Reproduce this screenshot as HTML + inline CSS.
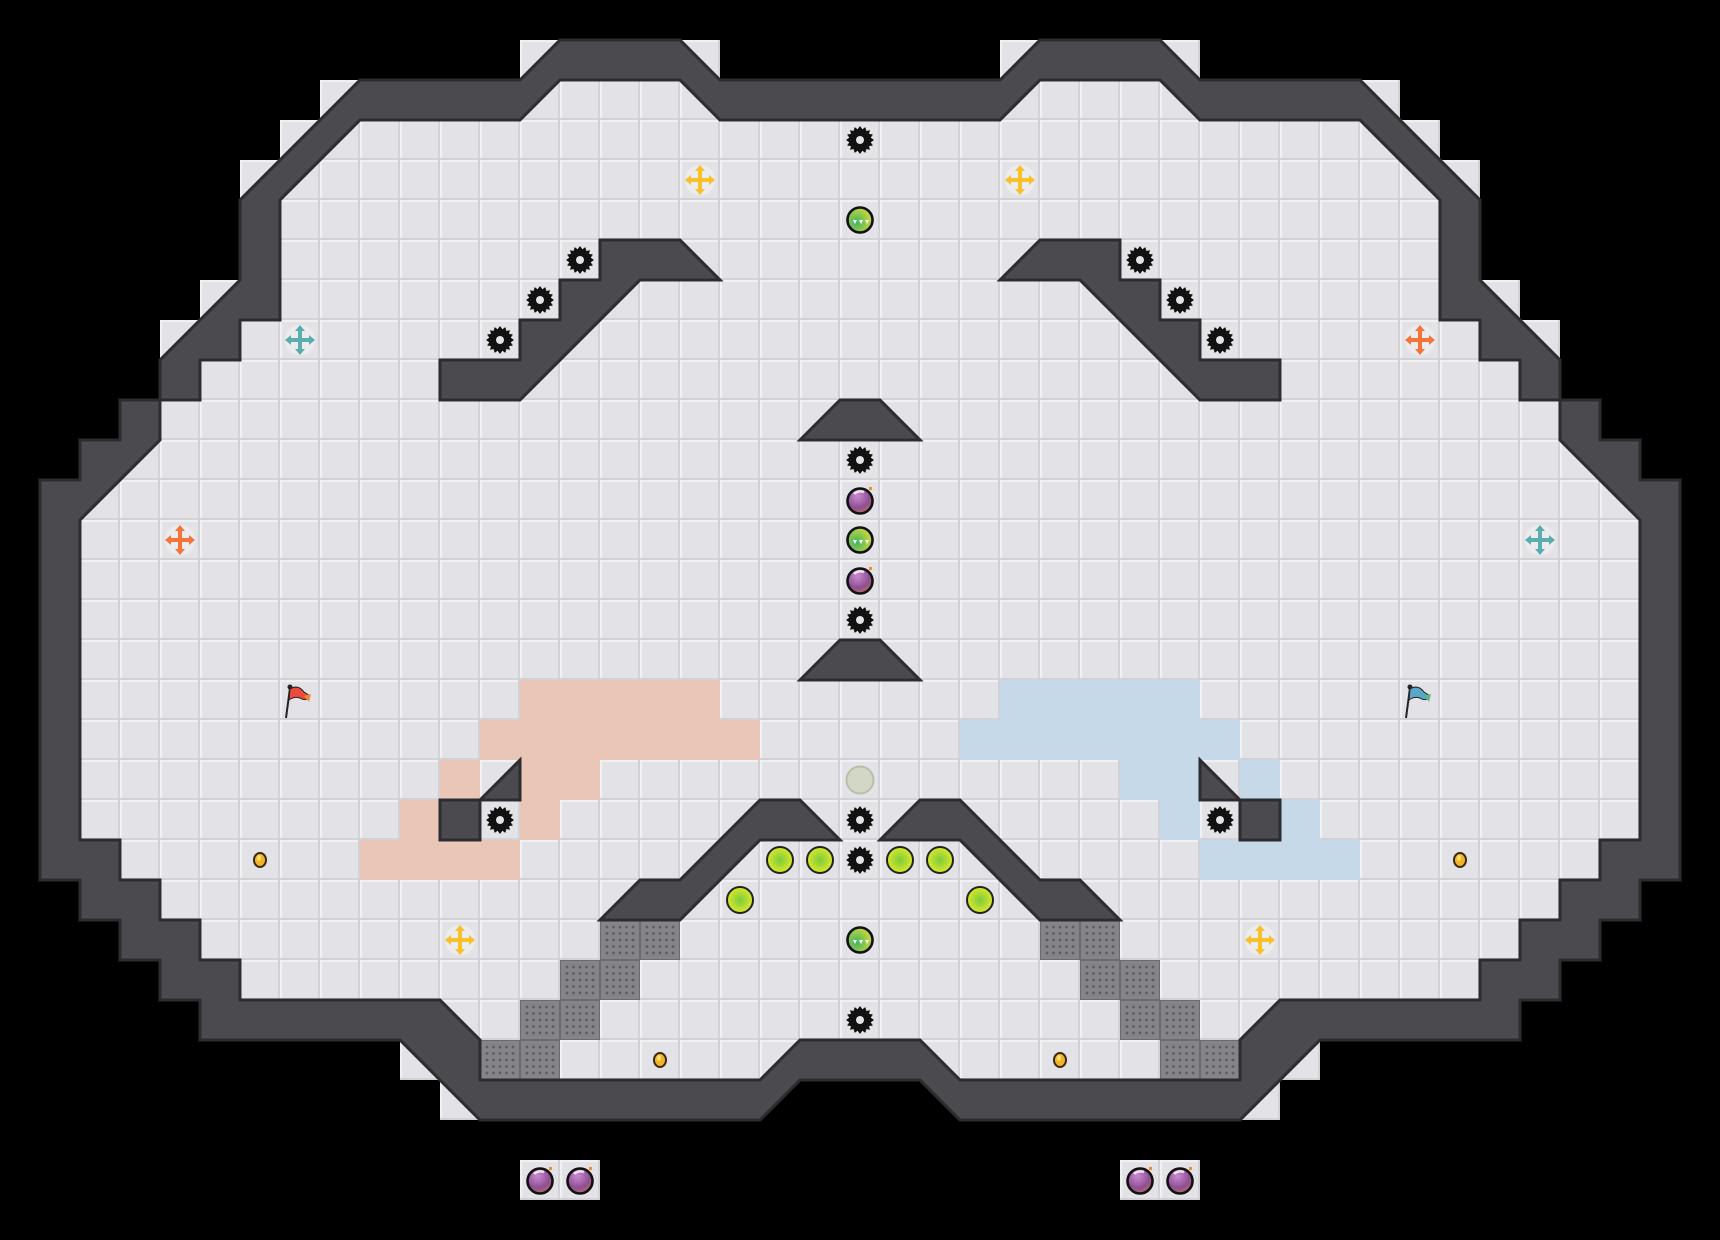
<!DOCTYPE html>
<html><head><meta charset="utf-8"><style>html,body{margin:0;padding:0;background:#000;}svg{display:block}</style></head>
<body>
<svg width="1720" height="1240" viewBox="0 0 1720 1240" xmlns="http://www.w3.org/2000/svg">
<defs>
<pattern id="tile" width="40" height="40" patternUnits="userSpaceOnUse">
<rect width="40" height="40" fill="#e3e3e7"/>
<rect x="0" y="0" width="40" height="2" fill="#f1f1f4"/>
<rect x="0" y="0" width="2" height="40" fill="#f1f1f4"/>
<rect x="0" y="38" width="40" height="2" fill="#d2d2d6"/>
<rect x="38" y="0" width="2" height="40" fill="#d2d2d6"/>
</pattern>
<pattern id="metal" width="40" height="40" patternUnits="userSpaceOnUse">
<rect width="40" height="40" fill="#858589"/>
<rect width="40" height="40" fill="none" stroke="#6c6c70" stroke-width="2"/>
<g fill="#5e5e62">
<circle cx="7" cy="7" r="1.4"/><circle cx="13.5" cy="7" r="1.4"/><circle cx="20" cy="7" r="1.4"/><circle cx="26.5" cy="7" r="1.4"/><circle cx="33" cy="7" r="1.4"/>
<circle cx="7" cy="13.5" r="1.4"/><circle cx="13.5" cy="13.5" r="1.4"/><circle cx="20" cy="13.5" r="1.4"/><circle cx="26.5" cy="13.5" r="1.4"/><circle cx="33" cy="13.5" r="1.4"/>
<circle cx="7" cy="20" r="1.4"/><circle cx="13.5" cy="20" r="1.4"/><circle cx="20" cy="20" r="1.4"/><circle cx="26.5" cy="20" r="1.4"/><circle cx="33" cy="20" r="1.4"/>
<circle cx="7" cy="26.5" r="1.4"/><circle cx="13.5" cy="26.5" r="1.4"/><circle cx="20" cy="26.5" r="1.4"/><circle cx="26.5" cy="26.5" r="1.4"/><circle cx="33" cy="26.5" r="1.4"/>
<circle cx="7" cy="33" r="1.4"/><circle cx="13.5" cy="33" r="1.4"/><circle cx="20" cy="33" r="1.4"/><circle cx="26.5" cy="33" r="1.4"/><circle cx="33" cy="33" r="1.4"/>
</g>
</pattern>
<radialGradient id="gbomb" cx="0.4" cy="0.3" r="0.8"><stop offset="0" stop-color="#c98ad0"/><stop offset="0.6" stop-color="#8e4f93"/><stop offset="1" stop-color="#c4734a"/></radialGradient>
<radialGradient id="ggreen" cx="0.35" cy="0.6" r="0.8"><stop offset="0" stop-color="#3fb36a"/><stop offset="0.6" stop-color="#a8d040"/><stop offset="1" stop-color="#e9e04a"/></radialGradient>
<radialGradient id="gyel" cx="0.5" cy="0.5" r="0.55"><stop offset="0" stop-color="#7ccb3a"/><stop offset="1" stop-color="#e4ec2a"/></radialGradient>
<symbol id="gear" viewBox="-20 -20 40 40" overflow="visible">
<polygon fill="#111" points="0,-14 2.4,-10.7 5.4,-12.9 6.3,-9 9.9,-9.9 9,-6.3 12.9,-5.4 10.7,-2.4 14,0 10.7,2.4 12.9,5.4 9,6.3 9.9,9.9 6.3,9 5.4,12.9 2.4,10.7 0,14 -2.4,10.7 -5.4,12.9 -6.3,9 -9.9,9.9 -9,6.3 -12.9,5.4 -10.7,2.4 -14,0 -10.7,-2.4 -12.9,-5.4 -9,-6.3 -9.9,-9.9 -6.3,-9 -5.4,-12.9 -2.4,-10.7"/>
<circle r="4" fill="#e3e3e7"/>
</symbol>
<symbol id="bomb" viewBox="-20 -20 40 40" overflow="visible">
<circle cx="0" cy="1" r="12.5" fill="url(#gbomb)" stroke="#111" stroke-width="2.6"/>
<path d="M-6,-6 Q-2,-10 4,-8" stroke="#fff" stroke-width="2.5" fill="none" opacity="0.8"/>
<rect x="9" y="-13" width="3" height="3" fill="#f08a2a"/>
</symbol>
<symbol id="green" viewBox="-20 -20 40 40" overflow="visible">
<circle r="12.5" fill="url(#ggreen)" stroke="#111" stroke-width="2.6"/>
<path d="M-7,0 l2,4 l2,-4 z M-1,0 l2,4 l2,-4 z M5,0 l2,4 l2,-4 z" fill="#fff"/>
</symbol>
<symbol id="ylw" viewBox="-20 -20 40 40" overflow="visible">
<circle r="13" fill="url(#gyel)" stroke="#222" stroke-width="2"/>
</symbol>
<symbol id="coin" viewBox="-20 -20 40 40" overflow="visible">
<ellipse rx="6" ry="7" fill="#f4b324" stroke="#3a2a10" stroke-width="2"/>
<ellipse cx="-1" cy="-2" rx="2" ry="3" fill="#ffe07a"/>
</symbol>
<symbol id="cross" viewBox="-20 -20 40 40" overflow="visible">
<circle r="15" fill="#ececef"/>
<path d="M0,-15 L5,-9 L2,-9 L2,-2 L9,-2 L9,-5 L15,0 L9,5 L9,2 L2,2 L2,9 L5,9 L0,15 L-5,9 L-2,9 L-2,2 L-9,2 L-9,5 L-15,0 L-9,-5 L-9,-2 L-2,-2 L-2,-9 L-5,-9 Z"/>
</symbol>
</defs>

<!-- floor tiles -->
<polygon fill="url(#tile)" points="860,80 720,80 720,40 520,40 520,80 320,80 320,120 280,120 280,160 240,160 240,280 200,280 200,320 160,320 160,400 120,400 120,440 80,440 80,480 40,480 40,880 80,880 80,920 120,920 120,960 160,960 160,1000 200,1000 200,1040 400,1040 400,1080 440,1080 440,1120 760,1120 760,1080 960,1080 960,1120 1280,1120 1280,1080 1320,1080 1320,1040 1520,1040 1520,1000 1560,1000 1560,960 1600,960 1600,920 1640,920 1640,880 1680,880 1680,480 1640,480 1640,440 1600,440 1600,400 1560,400 1560,320 1520,320 1520,280 1480,280 1480,160 1440,160 1440,120 1400,120 1400,80 1200,80 1200,40 1000,40 1000,80"/>
<!-- extra tiles -->
<rect x="520" y="1160" width="80" height="40" fill="url(#tile)"/>
<rect x="1120" y="1160" width="80" height="40" fill="url(#tile)"/>

<!-- peach -->
<g fill="#eac6b6">
<rect x="520" y="680" width="200" height="40"/>
<rect x="480" y="720" width="280" height="40"/>
<rect x="440" y="760" width="40" height="40"/><rect x="520" y="760" width="80" height="40"/>
<rect x="400" y="800" width="40" height="40"/><rect x="520" y="800" width="40" height="40"/>
<rect x="360" y="840" width="160" height="40"/>
</g>
<g fill="#c6d9e8">
<rect x="1000" y="680" width="200" height="40"/>
<rect x="960" y="720" width="280" height="40"/>
<rect x="1120" y="760" width="80" height="40"/><rect x="1240" y="760" width="40" height="40"/>
<rect x="1160" y="800" width="40" height="40"/><rect x="1280" y="800" width="40" height="40"/>
<rect x="1200" y="840" width="160" height="40"/>
</g>
<g fill="none" stroke="#ffffff" stroke-opacity="0.25" stroke-width="1">
</g>
<!-- metal -->
<g fill="url(#metal)">
<rect x="600" y="920" width="80" height="40"/><rect x="560" y="960" width="80" height="40"/><rect x="520" y="1000" width="80" height="40"/><rect x="480" y="1040" width="80" height="40"/>
<rect x="1040" y="920" width="80" height="40"/><rect x="1080" y="960" width="80" height="40"/><rect x="1120" y="1000" width="80" height="40"/><rect x="1160" y="1040" width="80" height="40"/>
</g>

<!-- walls -->
<g fill="#4a4a4f" stroke="#2c2c31" stroke-width="3" stroke-linejoin="miter">
<path fill-rule="evenodd" d="M860,80 L720,80 L680,40 L560,40 L520,80 L360,80 L240,200 L240,280 L160,360 L160,400 L120,400 L120,440 L80,440 L80,480 L40,480 L40,880 L80,880 L80,920 L120,920 L120,960 L160,960 L160,1000 L200,1000 L200,1040 L400,1040 L480,1120 L760,1120 L800,1080 L920,1080 L960,1120 L1240,1120 L1320,1040 L1520,1040 L1520,1000 L1560,1000 L1560,960 L1600,960 L1600,920 L1640,920 L1640,880 L1680,880 L1680,480 L1640,480 L1640,440 L1600,440 L1600,400 L1560,400 L1560,360 L1480,280 L1480,200 L1360,80 L1200,80 L1160,40 L1040,40 L1000,80 Z
M860,120 L720,120 L680,80 L560,80 L520,120 L360,120 L280,200 L280,320 L240,320 L240,360 L200,360 L200,400 L160,400 L160,440 L80,520 L80,840 L120,840 L120,880 L160,880 L160,920 L200,920 L200,960 L240,960 L240,1000 L440,1000 L480,1040 L480,1080 L760,1080 L800,1040 L920,1040 L960,1080 L1240,1080 L1240,1040 L1280,1000 L1480,1000 L1480,960 L1520,960 L1520,920 L1560,920 L1560,880 L1600,880 L1600,840 L1640,840 L1640,520 L1560,440 L1560,400 L1520,400 L1520,360 L1480,360 L1480,320 L1440,320 L1440,200 L1360,120 L1200,120 L1160,80 L1040,80 L1000,120 Z"/>
<polygon points="440,360 520,360 520,320 560,320 560,280 600,280 600,240 680,240 720,280 640,280 520,400 440,400"/>
<polygon points="1280,360 1200,360 1200,320 1160,320 1160,280 1120,280 1120,240 1040,240 1000,280 1080,280 1200,400 1280,400"/>
<polygon points="800,440 840,400 880,400 920,440"/>
<polygon points="800,680 840,640 880,640 920,680"/>
<polygon points="600,920 640,880 680,880 760,800 800,800 840,840 760,840 680,920"/>
<polygon points="1120,920 1080,880 1040,880 960,800 920,800 880,840 960,840 1040,920"/>
<polygon points="480,800 520,760 520,800"/>
<rect x="440" y="800" width="40" height="40"/>
<polygon points="1240,800 1200,760 1200,800"/>
<rect x="1240" y="800" width="40" height="40"/>
</g>

<!-- gears -->
<g>
<use href="#gear" x="840" y="120" width="40" height="40"/>
<use href="#gear" x="560" y="240" width="40" height="40"/>
<use href="#gear" x="520" y="280" width="40" height="40"/>
<use href="#gear" x="480" y="320" width="40" height="40"/>
<use href="#gear" x="1120" y="240" width="40" height="40"/>
<use href="#gear" x="1160" y="280" width="40" height="40"/>
<use href="#gear" x="1200" y="320" width="40" height="40"/>
<use href="#gear" x="840" y="440" width="40" height="40"/>
<use href="#gear" x="840" y="600" width="40" height="40"/>
<use href="#gear" x="480" y="800" width="40" height="40"/>
<use href="#gear" x="1200" y="800" width="40" height="40"/>
<use href="#gear" x="840" y="800" width="40" height="40"/>
<use href="#gear" x="840" y="840" width="40" height="40"/>
<use href="#gear" x="840" y="1000" width="40" height="40"/>
</g>
<!-- crosses -->
<use href="#cross" x="680" y="160" width="40" height="40" fill="#f6c12a"/>
<use href="#cross" x="1000" y="160" width="40" height="40" fill="#f6c12a"/>
<use href="#cross" x="440" y="920" width="40" height="40" fill="#f6c12a"/>
<use href="#cross" x="1240" y="920" width="40" height="40" fill="#f6c12a"/>
<use href="#cross" x="280" y="320" width="40" height="40" fill="#5aaeae"/>
<use href="#cross" x="1520" y="520" width="40" height="40" fill="#5aaeae"/>
<use href="#cross" x="160" y="520" width="40" height="40" fill="#f4743a"/>
<use href="#cross" x="1400" y="320" width="40" height="40" fill="#f4743a"/>
<!-- balls -->
<use href="#green" x="840" y="200" width="40" height="40"/>
<use href="#green" x="840" y="520" width="40" height="40"/>
<use href="#green" x="840" y="920" width="40" height="40"/>
<use href="#bomb" x="840" y="480" width="40" height="40"/>
<use href="#bomb" x="840" y="560" width="40" height="40"/>
<use href="#bomb" x="520" y="1160" width="40" height="40"/>
<use href="#bomb" x="560" y="1160" width="40" height="40"/>
<use href="#bomb" x="1120" y="1160" width="40" height="40"/>
<use href="#bomb" x="1160" y="1160" width="40" height="40"/>
<circle cx="860" cy="780" r="13.5" fill="#d3d8c6" stroke="#b9bdac" stroke-width="2"/>
<use href="#ylw" x="760" y="840" width="40" height="40"/>
<use href="#ylw" x="800" y="840" width="40" height="40"/>
<use href="#ylw" x="880" y="840" width="40" height="40"/>
<use href="#ylw" x="920" y="840" width="40" height="40"/>
<use href="#ylw" x="720" y="880" width="40" height="40"/>
<use href="#ylw" x="960" y="880" width="40" height="40"/>
<!-- coins -->
<use href="#coin" x="240" y="840" width="40" height="40"/>
<use href="#coin" x="1440" y="840" width="40" height="40"/>
<use href="#coin" x="640" y="1040" width="40" height="40"/>
<use href="#coin" x="1040" y="1040" width="40" height="40"/>
<!-- flags -->
<g transform="translate(280,680)">
<line x1="6" y1="38" x2="10" y2="8" stroke="#222" stroke-width="2"/>
<circle cx="10" cy="7" r="2.5" fill="#222"/>
<path d="M10,9 Q18,4 24,12 L30,16 Q26,22 20,18 Q14,16 9,20 Z" fill="#ec4a3a" stroke="#222" stroke-width="1"/>
<path d="M24,16 L31,14 L29,22 Z" fill="#f28a3a"/>
</g>
<g transform="translate(1400,680)">
<line x1="6" y1="38" x2="10" y2="8" stroke="#222" stroke-width="2"/>
<circle cx="10" cy="7" r="2.5" fill="#222"/>
<path d="M10,9 Q18,4 24,12 L30,16 Q26,22 20,18 Q14,16 9,20 Z" fill="#5aa6c8" stroke="#222" stroke-width="1"/>
<path d="M24,16 L31,14 L29,22 Z" fill="#5ab88a"/>
</g>
</svg>
</body></html>
